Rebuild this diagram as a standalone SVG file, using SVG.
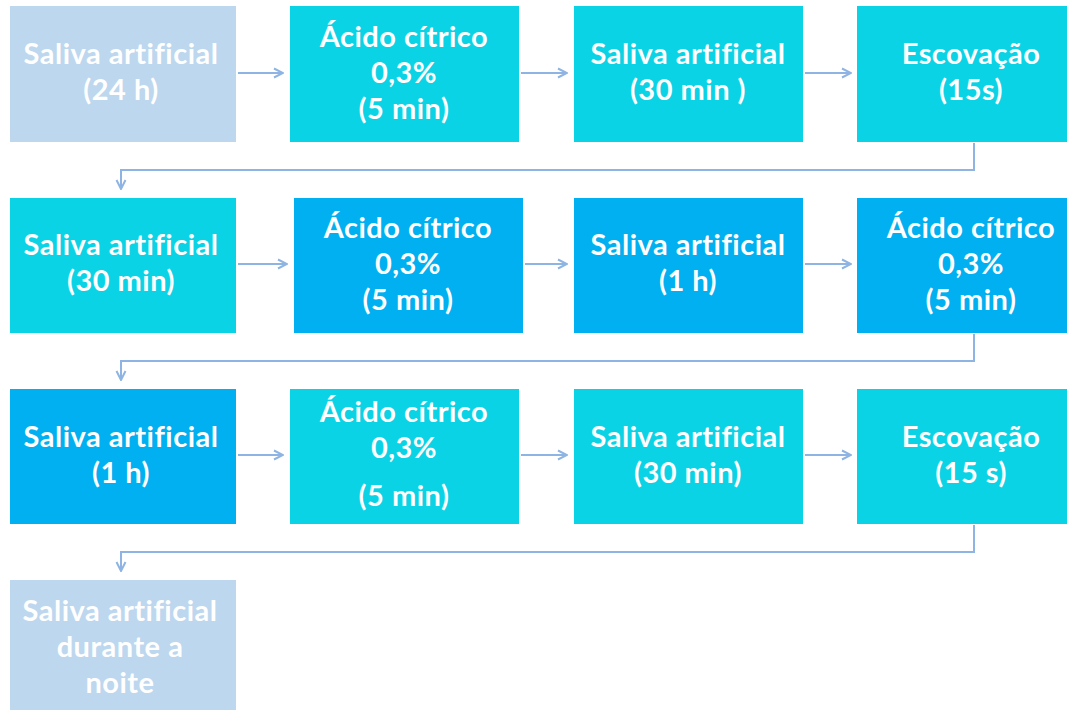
<svg xmlns="http://www.w3.org/2000/svg" width="1073" height="710" viewBox="0 0 1073 710">
  <style>
    .pale { fill: #BDD7EE; }
    .cyan { fill: #0BD3E6; }
    .blue { fill: #00B0F0; }
    text { font-family: Lato, "Open Sans", "Liberation Sans", sans-serif; font-weight: bold; font-size: 29px; letter-spacing: 0.5px; fill: #FFFFFF; text-anchor: middle; }
    .conn { fill: none; stroke: #8EB4E3; stroke-width: 2; }
  </style>
  <defs>
    <marker id="arrow" viewBox="0 0 12 12" refX="11" refY="6" markerWidth="12" markerHeight="12" markerUnits="userSpaceOnUse" orient="auto">
      <path d="M2,1.5 L11,6 L2,10.5" fill="none" stroke="#8EB4E3" stroke-width="2"/>
    </marker>
  </defs>
  <rect width="1073" height="710" fill="#FFFFFF"/>

  <!-- connectors -->
  <g id="connectors" class="conn" marker-end="url(#arrow)">
    <path d="M238,73 H283"/>
    <path d="M521,73 H567"/>
    <path d="M805,73 H851"/>
    <path d="M974,143 V170 H121 V189"/>
    <path d="M238,264 H287"/>
    <path d="M525,264 H567"/>
    <path d="M805,264 H851"/>
    <path d="M974,334 V361 H121 V380"/>
    <path d="M238,455 H283"/>
    <path d="M521,455 H567"/>
    <path d="M805,455 H851"/>
    <path d="M974,525 V552 H121 V571"/>
  </g>

  <!-- row 1 -->
  <g id="n1"><rect class="pale" x="10" y="6" width="226" height="136"/>
    <text x="121" y="64">Saliva artificial</text><text x="121" y="100">(24 h)</text></g>
  <g id="n2"><rect class="cyan" x="290" y="6" width="229" height="136"/>
    <text x="404" y="47">Ácido cítrico</text><text x="404" y="83">0,3%</text><text x="404" y="119">(5 min)</text></g>
  <g id="n3"><rect class="cyan" x="574" y="6" width="229" height="136"/>
    <text x="688" y="64">Saliva artificial</text><text x="688" y="100">(30 min )</text></g>
  <g id="n4"><rect class="cyan" x="857" y="6" width="210" height="136"/>
    <text x="971" y="64">Escovação</text><text x="971" y="100">(15s)</text></g>

  <!-- row 2 -->
  <g id="n5"><rect class="cyan" x="10" y="198" width="226" height="135"/>
    <text x="121" y="255">Saliva artificial</text><text x="121" y="291">(30 min)</text></g>
  <g id="n6"><rect class="blue" x="294" y="198" width="229" height="135"/>
    <text x="408" y="238">Ácido cítrico</text><text x="408" y="274">0,3%</text><text x="408" y="310">(5 min)</text></g>
  <g id="n7"><rect class="blue" x="574" y="198" width="229" height="135"/>
    <text x="688" y="255">Saliva artificial</text><text x="688" y="291">(1 h)</text></g>
  <g id="n8"><rect class="blue" x="857" y="198" width="210" height="135"/>
    <text x="971" y="238">Ácido cítrico</text><text x="971" y="274">0,3%</text><text x="971" y="310">(5 min)</text></g>

  <!-- row 3 -->
  <g id="n9"><rect class="blue" x="10" y="389" width="226" height="135"/>
    <text x="121" y="447">Saliva artificial</text><text x="121" y="483">(1 h)</text></g>
  <g id="n10"><rect class="cyan" x="290" y="389" width="229" height="135"/>
    <text x="404" y="422">Ácido cítrico</text><text x="404" y="458">0,3%</text><text x="404" y="506">(5 min)</text></g>
  <g id="n11"><rect class="cyan" x="574" y="389" width="229" height="135"/>
    <text x="688" y="447">Saliva artificial</text><text x="688" y="483">(30 min)</text></g>
  <g id="n12"><rect class="cyan" x="857" y="389" width="210" height="135"/>
    <text x="971" y="447">Escovação</text><text x="971" y="483">(15 s)</text></g>

  <!-- row 4 -->
  <g id="n13"><rect class="pale" x="10" y="580" width="226" height="130"/>
    <text x="120" y="621">Saliva artificial</text><text x="120" y="657">durante a</text><text x="120" y="693">noite</text></g>
</svg>
